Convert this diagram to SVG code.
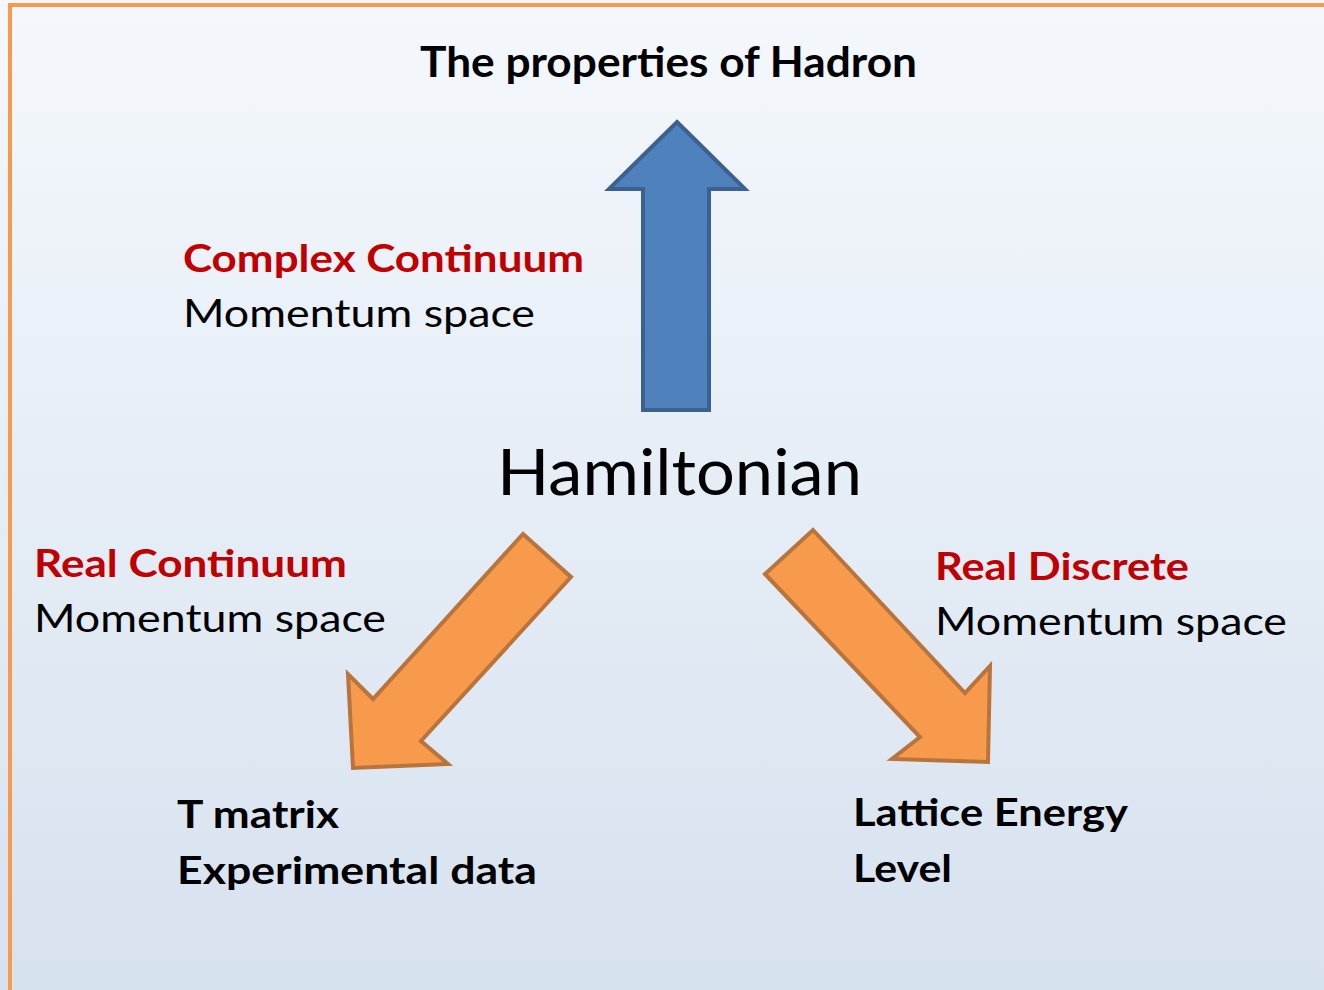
<svg xmlns="http://www.w3.org/2000/svg" width="1324" height="990" viewBox="0 0 1324 990">
  <defs>
    <linearGradient id="bg" x1="0" y1="0" x2="0" y2="1">
      <stop offset="0" stop-color="#f4f8fc"/>
      <stop offset="1" stop-color="#d7e2ef"/>
    </linearGradient>
    <style>
      text { font-family: Lato, "Open Sans", "Liberation Sans", sans-serif; fill: #000; }
      .b { font-weight: bold; }
      .red { fill: #c00000; font-weight: bold; }
      .lbl { font-size: 38px; }
      .big { font-size: 64px; }
      .orange { fill: #f79a4b; stroke: #b8743c; stroke-width: 4; stroke-linejoin: miter; }
      .blue { fill: #4f81bd; stroke: #3b6190; stroke-width: 4; stroke-linejoin: miter; }
    </style>
  </defs>
  <rect x="0" y="0" width="1324" height="990" fill="url(#bg)"/>
  <g id="frame" fill="none" stroke="#f89a4c" stroke-width="4">
    <path d="M10 990 V5 H1324"/>
  </g>

  <g id="connectors">
    <polygon id="arrow-up" class="blue" points="677,122 745,189 709,189 709,410 643,410 643,189 609,189"/>
    <polygon id="arrow-left" class="orange" points="523,534 571,577 421,741 448,764 353,768 348,674 373,699"/>
    <polygon id="arrow-right" class="orange" points="813,530 965,693 990,666 988,762 892,759 920,737 765,574"/>
  </g>

  <g id="node-hadron">
    <text class="b" x="420" y="77" font-size="42" textLength="497" lengthAdjust="spacingAndGlyphs">The properties of Hadron</text>
  </g>
  <g id="node-complex">
    <text class="red lbl" x="183" y="272" textLength="401" lengthAdjust="spacingAndGlyphs">Complex Continuum</text>
    <text class="lbl" x="183" y="327" textLength="352" lengthAdjust="spacingAndGlyphs">Momentum space</text>
  </g>
  <g id="node-hamiltonian">
    <text class="big" x="497" y="495" textLength="365" lengthAdjust="spacingAndGlyphs">Hamiltonian</text>
  </g>
  <g id="node-real-continuum">
    <text class="red lbl" x="34" y="577" textLength="313" lengthAdjust="spacingAndGlyphs">Real Continuum</text>
    <text class="lbl" x="34" y="632" textLength="352" lengthAdjust="spacingAndGlyphs">Momentum space</text>
  </g>
  <g id="node-real-discrete">
    <text class="red lbl" x="935" y="580" textLength="254" lengthAdjust="spacingAndGlyphs">Real Discrete</text>
    <text class="lbl" x="935" y="635" textLength="352" lengthAdjust="spacingAndGlyphs">Momentum space</text>
  </g>
  <g id="node-tmatrix">
    <text class="b lbl" x="177" y="828" textLength="162" lengthAdjust="spacingAndGlyphs">T matrix</text>
    <text class="b lbl" x="177" y="884" textLength="360" lengthAdjust="spacingAndGlyphs">Experimental data</text>
  </g>
  <g id="node-lattice">
    <text class="b lbl" x="853" y="826" textLength="275" lengthAdjust="spacingAndGlyphs">Lattice Energy</text>
    <text class="b lbl" x="853" y="882" textLength="99" lengthAdjust="spacingAndGlyphs">Level</text>
  </g>
</svg>
